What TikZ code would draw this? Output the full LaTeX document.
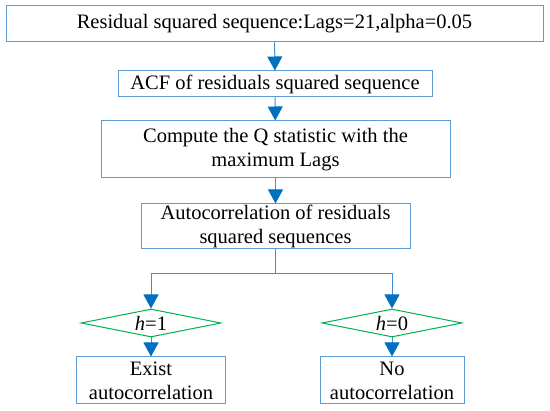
\documentclass[tikz,border=0pt]{standalone}
\usepackage{fontspec}
\setmainfont{Liberation Serif}
\usetikzlibrary{arrows.meta,positioning,shapes.geometric}
\definecolor{boxblue}{HTML}{5B9BD5}
\definecolor{lineblue}{HTML}{3F8FD8}
\definecolor{tipblue}{HTML}{0070C0}
\definecolor{testgreen}{HTML}{00B050}

\begin{document}
\begin{tikzpicture}[x=1pt,y=-1pt,
  stage/.style={draw=boxblue,line width=1pt,inner sep=0pt,align=center,
    minimum width=#1,font=\fontsize{20.5}{24}\selectfont},
  test/.style={draw=testgreen,line width=1pt,diamond,aspect=5,inner sep=0pt,
    minimum width=140pt,minimum height=28pt,font=\fontsize{20.5}{24}\selectfont},
  flow/.style={draw=lineblue,line width=1pt,-{Triangle[width=15pt,length=14pt,color=tipblue]}},
]
  \useasboundingbox (0,0) rectangle (550,411);
  \node[stage=537pt,minimum height=36pt] (s1) at (274.5,24) {Residual squared sequence:Lags=21,alpha=0.05};
  \node[stage=314pt,minimum height=26pt] (s2) at (275,84) {ACF of residuals squared sequence};
  \node[stage=349pt,minimum height=57pt] (s3) at (275.5,149.5) {Compute the Q statistic with the\\maximum Lags};
  \node[stage=269pt,minimum height=45pt] (s4) at (275.5,226.5) {Autocorrelation of residuals\\squared sequences};
  \node[test] (t1) at (151,323) {\textit{h}=1};
  \node[test] (t0) at (392,323) {\textit{h}=0};
  \node[stage=149pt,minimum height=47pt] (r1) at (151,380.5) {Exist\\autocorrelation};
  \node[stage=144pt,minimum height=47pt] (r0) at (392,380.5) {No\\autocorrelation};
  \draw[flow] (s1) -- (s2);
  \draw[flow] (s2) -- (s3);
  \draw[flow] (s3) -- (s4);
  \draw[draw=lineblue,line width=1pt] (s4.south) -- ++(0,24) coordinate (split);
  \draw[flow] (split) -| (t1.north);
  \draw[flow] (split) -| (t0.north);
  \draw[flow] (t1) -- (r1);
  \draw[flow] (t0) -- (r0);
\end{tikzpicture}
\end{document}
